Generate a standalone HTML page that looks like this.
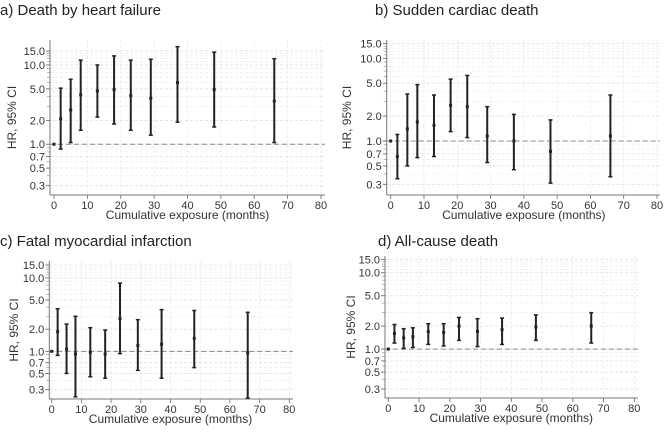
<!DOCTYPE html>
<html><head><meta charset="utf-8"><style>
body{margin:0;background:#fff;}
svg{display:block;font-family:"Liberation Sans",sans-serif;}
</style></head><body>
<svg id="fig" width="669" height="432"></svg>
<script>
const months=[0,2,5,8,13,18,23,29,37,48,66];
const hrA=[1,2.1,2.7,4.2,4.7,4.9,4.1,3.8,6.0,4.9,3.5];
const loA=[1,0.87,1.05,1.5,2.2,1.8,1.5,1.3,1.9,1.65,1.05];
const hiA=[1,5.1,6.6,11.5,10,13,11.5,11.8,17,14.5,12];
const hrB=[1,0.65,1.4,1.7,1.55,2.7,2.6,1.15,1.0,0.75,1.15];
const loB=[1,0.35,0.5,0.63,0.65,1.3,1.1,0.55,0.45,0.31,0.37];
const hiB=[1,1.2,3.7,4.8,3.6,5.6,6.2,2.6,2.1,1.8,3.6];
const hrC=[1,1.85,1.07,0.92,0.97,0.92,2.8,1.2,1.25,1.5,0.95];
const loC=[1,0.88,0.5,0.24,0.45,0.43,0.93,0.55,0.43,0.6,0.23];
const hiC=[1,3.8,2.35,3.0,2.1,1.95,8.5,2.7,3.7,3.6,3.4];
const hrD=[1,1.6,1.4,1.45,1.7,1.65,2.0,1.7,1.8,1.95,2.0];
const loD=[1,1.2,1.02,1.05,1.15,1.1,1.3,1.08,1.15,1.3,1.2];
const hiD=[1,2.1,1.85,1.9,2.15,2.15,2.6,2.5,2.55,2.8,3.0];
const yTicks=[0.3,0.5,0.7,1,2,5,10,15];
const yTickLabels=["0.3","0.5","0.7","1.0","2.0","5.0","10.0","15.0"];
const xTicks=[0,10,20,30,40,50,60,70,80];

const NS="http://www.w3.org/2000/svg";
const svg=document.getElementById('fig');
function mk(tag,attrs,parent){const e=document.createElementNS(NS,tag);for(const k in attrs)e.setAttribute(k,attrs[k]);(parent||svg).appendChild(e);return e;}

const panels=[
 {key:'a',title:'a) Death by heart failure',tx:0,ty:15,x0:54,x80:321,y15:51,y03:185.7,left:50,right:325,top:40,bottom:195,yt:13,hr:hrA,lo:loA,hi:hiA},
 {key:'b',title:'b) Sudden cardiac death',tx:375,ty:15,x0:390.7,x80:657,y15:43.7,y03:184.3,left:386.7,right:660,top:40,bottom:195,yt:348,hr:hrB,lo:loB,hi:hiB},
 {key:'c',title:'c) Fatal myocardial infarction',tx:0,ty:246,x0:51.7,x80:289.3,y15:265,y03:389.7,left:49.3,right:293,top:261,bottom:399,yt:15,hr:hrC,lo:loC,hi:hiC},
 {key:'d',title:'d) All-cause death',tx:378,ty:246,x0:388.3,x80:634.3,y15:259.3,y03:389,left:385,right:638,top:256,bottom:398,yt:352,hr:hrD,lo:loD,hi:hiD}
];
panels.forEach(p=>{
 const g=mk('g',{});
 
 
 const xs=v=>p.x0+(p.x80-p.x0)*v/80;
 const ys=v=>p.y15+(p.y03-p.y15)*(Math.log10(15)-Math.log10(v))/(Math.log10(15)-Math.log10(0.3));
 const t=mk('text',{x:p.tx,y:p.ty,'font-size':15,fill:'#222'},g);t.textContent=p.title;
 
 // minor grid
 const minors=[];
 for(let v=0.3;v<1;v+=0.1)minors.push(v);
 for(let v=1;v<=15;v+=1)minors.push(v);
 minors.forEach(v=>{const y=ys(v);if(y<p.top||y>p.bottom)return;mk('line',{x1:p.left,x2:p.right,y1:y,y2:y,stroke:'#ececec','stroke-width':0.7,'stroke-dasharray':'3,2'},g);mk('line',{x1:p.left-3,x2:p.left,y1:y,y2:y,stroke:'#888','stroke-width':0.6},g);});
 xTicks.forEach(v=>{const x=xs(v);mk('line',{x1:x,x2:x,y1:p.top,y2:p.bottom,stroke:'#e8e8e8','stroke-width':0.7,'stroke-dasharray':'3,2'},g);
  mk('line',{x1:x,x2:x,y1:p.bottom,y2:p.bottom+4,stroke:'#666','stroke-width':0.8},g);
  const l=mk('text',{x:x,y:p.bottom+14,'font-size':11,fill:'#333','text-anchor':'middle'},g);l.textContent=v;
  });
 yTicks.forEach((v,i)=>{const y=ys(v);mk('line',{x1:p.left,x2:p.right,y1:y,y2:y,stroke:'#e2e2e2','stroke-width':0.8,'stroke-dasharray':'3,2'},g);
  mk('line',{x1:p.left-4,x2:p.left,y1:y,y2:y,stroke:'#666','stroke-width':0.8},g);
  const l=mk('text',{x:p.left-5,y:y+4,'font-size':11,fill:'#333','text-anchor':'end'},g);l.textContent=yTickLabels[i];
  });
 mk('line',{x1:p.left,x2:p.left,y1:p.top,y2:p.bottom,stroke:'#777','stroke-width':1},g);
 mk('line',{x1:p.left,x2:p.right,y1:p.bottom,y2:p.bottom,stroke:'#777','stroke-width':1},g);
 const ref=mk('line',{x1:p.left,x2:p.right,y1:ys(1),y2:ys(1),stroke:'#888','stroke-width':1,'stroke-dasharray':'5,3'},g);
 
 const xt=mk('text',{x:(p.x0+p.x80)/2,y:p.bottom+24,'font-size':12,fill:'#333','text-anchor':'middle'},g);xt.textContent='Cumulative exposure (months)';
 
 const cy=(p.top+p.bottom)/2;
 const yt=mk('text',{x:p.yt,y:cy,'font-size':12,fill:'#333','text-anchor':'middle',transform:`rotate(-90 ${p.yt} ${cy})`,'dominant-baseline':'middle'},g);yt.textContent='HR, 95% CI';
 
 months.forEach((m,i)=>{
  const x=xs(m);
  const eg=mk('g',{},g);
  
  
  if(p.hi[i]!==p.lo[i]){
   mk('line',{x1:x,x2:x,y1:ys(p.lo[i]),y2:ys(p.hi[i]),stroke:'#222','stroke-width':2},eg);
   mk('line',{x1:x-2,x2:x+2,y1:ys(p.lo[i]),y2:ys(p.lo[i]),stroke:'#222','stroke-width':1.5},eg);
   mk('line',{x1:x-2,x2:x+2,y1:ys(p.hi[i]),y2:ys(p.hi[i]),stroke:'#222','stroke-width':1.5},eg);
  }
  mk('rect',{x:x-1.5,y:ys(p.hr[i])-1.5,width:3,height:3,fill:'#222'},eg);
 });
});
</script>
</body></html>
